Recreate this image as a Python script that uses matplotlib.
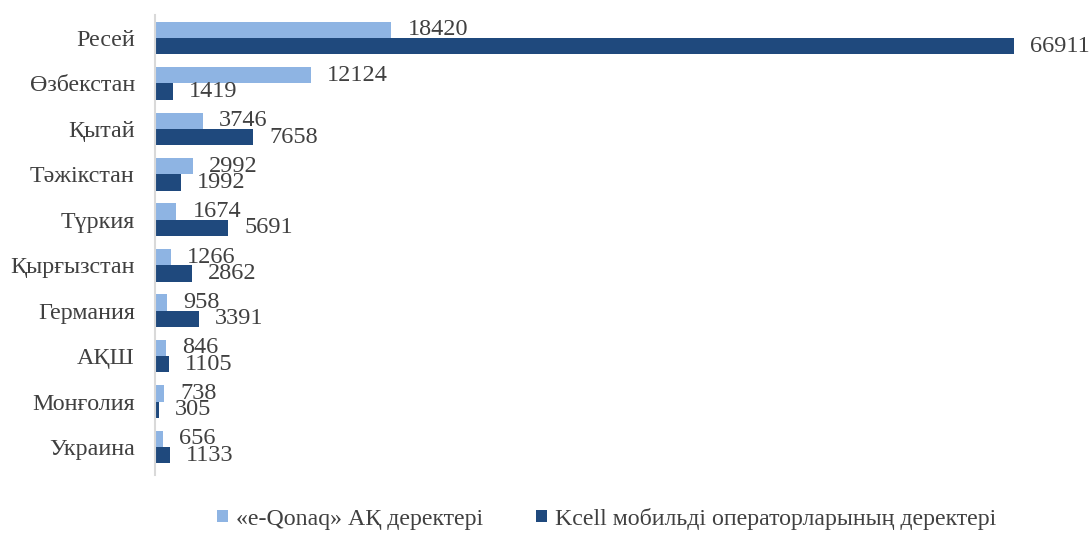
import matplotlib.pyplot as plt
import numpy as np

# данные
countries = ['Ресей', 'Өзбекстан', 'Қытай', 'Тәжікстан', 'Түркия',
             'Қырғызстан', 'Германия', 'АҚШ', 'Монғолия', 'Украина']
eqonaq = [18420, 12124, 3746, 2992, 1674, 1266, 958, 846, 738, 656]
kcell = [66911, 1419, 7658, 1992, 5691, 2862, 3391, 1105, 305, 1133]
series_names = ['«e-Qonaq» АҚ деректері', 'Kcell мобильді операторларының деректері']

plt.rcParams['font.family'] = ['Liberation Serif', 'DejaVu Serif']
text_color = '#404040'
light = '#8EB4E3'
dark = '#1F497D'

fig = plt.figure(figsize=(10.91, 5.33), dpi=100)
# оси: слева 155px, сверху 15px, снизу 475px
ax = fig.add_axes([155 / 1091, 1 - 475 / 533, (1079 - 155) / 1091, 460 / 533])

y = np.arange(len(countries))
h = 0.36
b1 = ax.barh(y - h / 2, eqonaq, height=h, color=light, label=series_names[0])
b2 = ax.barh(y + h / 2, kcell, height=h, color=dark, label=series_names[1])

for bars, vals in ((b1, eqonaq), (b2, kcell)):
    for bar, v in zip(bars, vals):
        ax.annotate(str(v), (bar.get_width(), bar.get_y() + bar.get_height() / 2),
                    xytext=(11.5, 0), textcoords='offset points',
                    ha='left', va='center', fontsize=17.5, color=text_color,
                    annotation_clip=False)

ax.set_xlim(0, 72000)
ax.set_ylim(9.616, -0.506)
ax.set_yticks(y)
ax.set_yticklabels(countries, fontsize=17.3, color=text_color)
ax.tick_params(axis='y', length=0, pad=14.5)
ax.set_xticks([])
for s in ('top', 'right', 'bottom'):
    ax.spines[s].set_visible(False)
ax.spines['left'].set_color('#D9D9D9')
ax.spines['left'].set_linewidth(1.5)

fig.legend(handles=[b1, b2], loc='center', bbox_to_anchor=(0.556, 1 - 519 / 533),
           ncol=2, frameon=False, fontsize=17.2, handlelength=0.45, handleheight=0.4,
           handletextpad=0.35, columnspacing=2.2, labelcolor=text_color)

fig.savefig('out.png', dpi=100)
